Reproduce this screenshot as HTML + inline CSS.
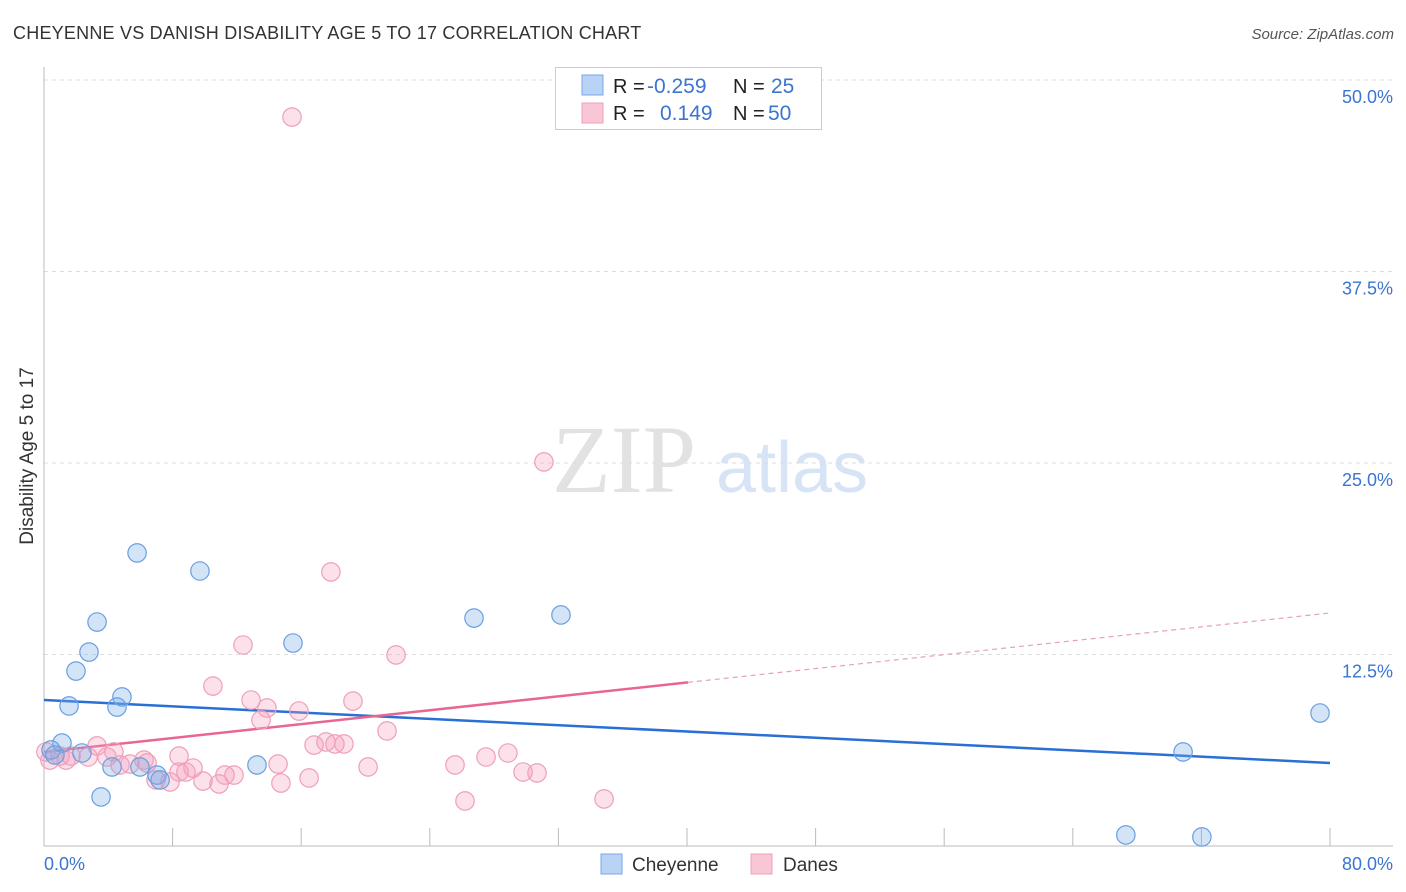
<!DOCTYPE html>
<html><head><meta charset="utf-8">
<style>
html,body{margin:0;padding:0;background:#fff;}
svg{display:block;font-family:"Liberation Sans",sans-serif;}
</style></head>
<body>
<svg id="chart" width="1406" height="892" viewBox="0 0 1406 892">
<text x="13" y="39" font-size="18" fill="#333" letter-spacing="0.22">CHEYENNE VS DANISH DISABILITY AGE 5 TO 17 CORRELATION CHART</text>
<text x="1394" y="39" font-size="15" fill="#555" font-style="italic" text-anchor="end">Source: ZipAtlas.com</text>
<g>
<text x="552" y="492" font-size="96" font-family="Liberation Serif,serif" fill="#e2e2e2">ZIP</text>
<text x="716" y="492" font-size="72" fill="#d6e4f5">atlas</text>
</g>
<g id="grid"></g>
<g id="axes"></g>
<g id="trends"></g>
<g id="points"></g>
<text x="33" y="456" font-size="19" fill="#333" text-anchor="middle" transform="rotate(-90 33 456)">Disability Age 5 to 17</text>
<text x="44" y="870" font-size="18" fill="#3b74d1">0.0%</text>
<text x="1393" y="870" font-size="18" fill="#3b74d1" text-anchor="end">80.0%</text>
<g>
<rect x="555.5" y="67.5" width="266" height="62" fill="#fff" stroke="#ccc"/>
<rect x="582" y="75" width="21" height="20" fill="#b8d3f5" stroke="#7aa7e6"/>
<rect x="582" y="103" width="21" height="20" fill="#f9c6d6" stroke="#eea0b8"/>
<text x="613" y="93" font-size="20" fill="#222">R =</text>
<text x="647" y="93" font-size="21" fill="#3b74d1">-0.259</text>
<text x="733" y="93" font-size="20" fill="#222">N =</text>
<text x="771" y="93" font-size="21" fill="#3b74d1">25</text>
<text x="613" y="120" font-size="20" fill="#222">R =</text>
<text x="660" y="120" font-size="21" fill="#3b74d1">0.149</text>
<text x="733" y="120" font-size="20" fill="#222">N =</text>
<text x="768" y="120" font-size="21" fill="#3b74d1">50</text>
</g>
<g>
<rect x="601" y="854" width="21" height="20" fill="#b8d3f5" stroke="#7aa7e6"/>
<text x="632" y="871" font-size="19" fill="#333">Cheyenne</text>
<rect x="751" y="854" width="21" height="20" fill="#f9c6d6" stroke="#eea0b8"/>
<text x="783" y="871" font-size="19" fill="#333">Danes</text>
</g>
</svg>
<script>
const yTicks = [12.5, 25.0, 37.5, 50.0];
const yTickLabels = ["12.5%", "25.0%", "37.5%", "50.0%"];
const xTicks = [0, 8, 16, 24, 32, 40, 48, 56, 64, 72, 80];
const cheyenneX = [5.79,9.70,3.30,2.80,1.99,4.85,1.56,4.54,15.49,26.75,32.16,79.38,70.86,67.30,72.03,13.25,7.03,7.22,5.97,4.23,3.55,1.12,0.44,0.68,2.36];
const cheyenneY = [19.13,17.95,14.62,12.66,11.42,9.73,9.14,9.07,13.25,14.88,15.08,8.68,6.14,0.72,0.59,5.29,4.63,4.31,5.16,5.16,3.20,6.72,6.27,5.94,6.07];
const danesX = [15.43,31.10,17.85,12.38,21.90,10.51,12.88,19.22,13.87,15.86,13.50,21.34,16.80,17.54,18.10,18.66,28.86,27.50,25.57,20.16,14.56,11.26,11.82,16.49,14.74,10.89,9.89,8.83,9.27,8.40,7.84,6.97,6.22,5.35,4.35,3.92,3.30,2.74,1.37,1.00,0.37,0.12,29.80,30.67,26.19,34.84,6.41,4.73,1.68,8.40];
const danesY = [47.58,25.07,17.89,13.12,12.47,10.44,9.53,9.46,9.01,8.81,8.22,7.51,6.59,6.79,6.66,6.66,6.07,5.81,5.29,5.16,5.35,4.63,4.63,4.44,4.11,4.05,4.24,4.83,5.09,5.87,4.18,4.31,5.61,5.35,6.14,5.81,6.53,5.81,5.61,5.87,5.61,6.14,4.83,4.77,2.94,3.07,5.42,5.29,5.87,4.83];
const cheyenneTrend = [9.53, 5.42];
const danesTrend = [6.14, 15.21];
const danesSolidEnd = 40.06;

const NS = "http://www.w3.org/2000/svg";
const X0 = 44, X1 = 1330, Y0 = 846, YPER = 15.32;
const xs = v => X0 + (X1 - X0) * v / 80;
const ys = v => Y0 - v * YPER;
function mk(tag, attrs, parent){ const e = document.createElementNS(NS, tag); for (const k in attrs) e.setAttribute(k, attrs[k]); parent.appendChild(e); return e; }

const grid = document.getElementById('grid');
yTicks.forEach((t, i) => {
  const l = mk('line', {x1: X0, x2: 1393, y1: ys(t), y2: ys(t), stroke: '#ddd', 'stroke-dasharray': '4,4'}, grid);
  
  
  const tx = mk('text', {x: 1393, y: ys(t) + 23, 'font-size': 18, fill: '#3b74d1', 'text-anchor': 'end'}, grid);
  tx.textContent = yTickLabels[i];
  
  
});
const axes = document.getElementById('axes');
const ya = mk('line', {x1: X0, x2: X0, y1: 67, y2: Y0, stroke: '#bbb'}, axes);


const xa = mk('line', {x1: X0, x2: 1393, y1: Y0, y2: Y0, stroke: '#bbb'}, axes);


xTicks.forEach(t => {
  const l = mk('line', {x1: xs(t), x2: xs(t), y1: 828, y2: Y0, stroke: '#bbb'}, axes);
  
  
});

const pts = document.getElementById('points');
danesX.forEach((v, i) => {
  const c = mk('circle', {cx: xs(v), cy: ys(danesY[i]), r: 9.2, fill: 'rgba(245,160,190,0.32)', stroke: '#eea0b8', 'stroke-width': 1.2}, pts);
  
  
});
cheyenneX.forEach((v, i) => {
  const c = mk('circle', {cx: xs(v), cy: ys(cheyenneY[i]), r: 9.2, fill: 'rgba(120,170,230,0.32)', stroke: '#6a9fe0', 'stroke-width': 1.2}, pts);
  
  
});

const tr = document.getElementById('trends');
const ty = (a, x) => a[0] + (a[1] - a[0]) * x / 80;
const bl = mk('line', {x1: xs(0), y1: ys(ty(cheyenneTrend, 0)), x2: xs(80), y2: ys(ty(cheyenneTrend, 80)), stroke: '#2a6fd6', 'stroke-width': 2.5}, tr);


const pl = mk('line', {x1: xs(0), y1: ys(ty(danesTrend, 0)), x2: xs(danesSolidEnd), y2: ys(ty(danesTrend, danesSolidEnd)), stroke: '#e8668f', 'stroke-width': 2.5}, tr);


const pd = mk('line', {x1: xs(danesSolidEnd), y1: ys(ty(danesTrend, danesSolidEnd)), x2: xs(80), y2: ys(ty(danesTrend, 80)), stroke: '#e8a0b8', 'stroke-width': 1.2, 'stroke-dasharray': '5,4'}, tr);


</script>
</body></html>
